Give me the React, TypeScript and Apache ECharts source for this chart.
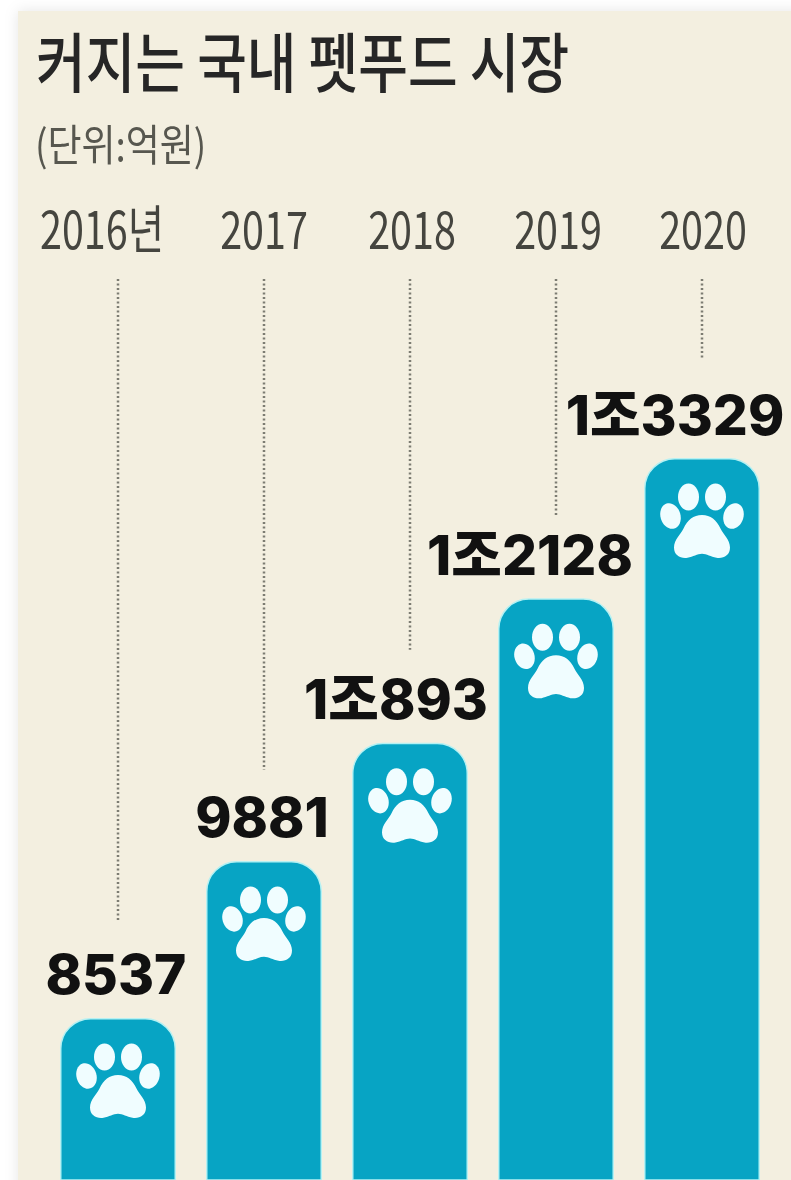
import React, { useEffect, useRef } from "react";
import * as echarts from "echarts";

const years = ["2016년", "2017", "2018", "2019", "2020"];
const marketValues = [8537, 9881, 10893, 12128, 13329];
const valueLabels = ["8537", "9881", "1조893", "1조2128", "1조3329"];
const titleText = "커지는 국내 펫푸드 시장";
const unitText = "(단위:억원)";

const labelShiftX = [-2, -2, -14, -26, -27];
const yearShiftX = [-16, 0, 2, 2, 1];
const guideGap = [98, 91, 93, 83, 98];
const guideTop = 279;
const yearLabelY = 226;
const KR = '"Noto Sans CJK KR", sans-serif';

const padPath =
  "M0,57 C9,57 15,62 19,70 C22,76 29,81 29,89 C29,97 22,100 15,99 C9,98 5,95 0,95 C-5,95 -9,98 -15,99 C-22,100 -29,97 -29,89 C-29,81 -22,76 -19,70 C-15,62 -9,57 0,57 Z";

const PAW = "#f0fdff";

function pawItem(_: any, api: any) {
  const [x, y] = api.coord([api.value(0), api.value(1)]);
  const toe = (cx: number, cy: number, rx: number, ry: number, rot: number) => ({
    type: "ellipse",
    x: cx,
    y: cy,
    rotation: rot,
    shape: { cx: 0, cy: 0, rx, ry },
    style: { fill: PAW },
  });
  return {
    type: "group",
    x,
    y,
    children: [
      toe(-13.5, 39, 10.5, 13.5, 0),
      toe(13.5, 39, 10.5, 13.5, 0),
      toe(-31.5, 58, 10, 13, 0.3),
      toe(31.5, 58, 10, 13, -0.3),
      {
        type: "path",
        shape: { pathData: padPath, x: -28, y: 57, width: 56, height: 43, layout: "cover" },
        style: { fill: PAW },
      },
    ],
  };
}

function guideItem(params: any, api: any) {
  const [x, y] = api.coord([api.value(0), api.value(1)]);
  return {
    type: "line",
    shape: { x1: x, y1: guideTop, x2: x, y2: y - guideGap[params.dataIndex] },
    style: { stroke: "#7c7c72", lineWidth: 2.5, lineDash: [2, 2.5] },
  };
}

function yearItem(params: any, api: any) {
  const [x] = api.coord([api.value(0), api.value(1)]);
  return {
    type: "text",
    x: x + yearShiftX[params.dataIndex],
    y: yearLabelY,
    scaleX: 0.76,
    style: {
      text: years[params.dataIndex],
      fill: "#45453f",
      font: `400 52px ${KR}`,
      textAlign: "center",
      textVerticalAlign: "middle",
    },
  };
}

export default function App() {
  const ref = useRef<HTMLDivElement>(null);

  useEffect(() => {
    document.body.style.margin = "0";
    document.body.style.background = "#ffffff";
    document.body.style.overflow = "hidden";
    const chart = echarts.init(ref.current!, undefined, { renderer: "svg" });
    const points = marketValues.map((v, i) => [i, v]);
    chart.setOption({
      animation: false,
      backgroundColor: "#ffffff",
      graphic: [
        {
          type: "rect",
          shape: { x: 18, y: 11, width: 790, height: 1190 },
          style: { fill: "#f3efe0", shadowBlur: 14, shadowColor: "rgba(0,0,0,0.10)" },
        },
        {
          type: "text",
          x: 36,
          y: 26,
          scaleY: 1.2,
          style: { text: titleText, fill: "#262626", font: `500 54px ${KR}`, textVerticalAlign: "top" },
        },
        {
          type: "text",
          x: 35,
          y: 121,
          scaleY: 1.16,
          style: { text: unitText, fill: "#57574f", font: `400 37px ${KR}`, textVerticalAlign: "top" },
        },
      ],
      grid: { left: 45, right: 16, top: 379.6, bottom: 0, containLabel: false },
      xAxis: {
        type: "category",
        position: "top",
        data: years,
        axisLine: { show: false },
        axisTick: { show: false },
        axisLabel: { show: false },
      },
      yAxis: { type: "value", min: 7150, max: 14000, show: false, splitLine: { show: false } },
      series: [
        {
          type: "custom",
          coordinateSystem: "cartesian2d",
          renderItem: guideItem,
          data: points,
          z: 1,
          clip: false,
          silent: true,
        },
        {
          type: "custom",
          coordinateSystem: "cartesian2d",
          renderItem: yearItem,
          data: points,
          z: 1,
          clip: false,
          silent: true,
        },
        {
          type: "bar",
          barWidth: 116,
          z: 2,
          data: marketValues.map((v, i) => ({
            value: v,
            label: {
              show: true,
              position: "top",
              distance: 16,
              offset: [labelShiftX[i], 0],
              formatter: valueLabels[i],
              color: "#111111",
              fontSize: 55,
              fontWeight: 800,
              fontFamily: 'Inter, "Noto Sans CJK KR", sans-serif',
            },
          })),
          itemStyle: {
            color: "#07a4c4",
            borderColor: "#b5f1f3",
            borderWidth: 1.5,
            borderRadius: [30, 30, 0, 0],
          },
        },
        {
          type: "custom",
          coordinateSystem: "cartesian2d",
          renderItem: pawItem,
          data: points,
          z: 3,
          silent: true,
        },
      ],
    });
    return () => chart.dispose();
  }, []);

  return <div ref={ref} style={{ width: 791, height: 1180, filter: "blur(0.6px)" }} />;
}
